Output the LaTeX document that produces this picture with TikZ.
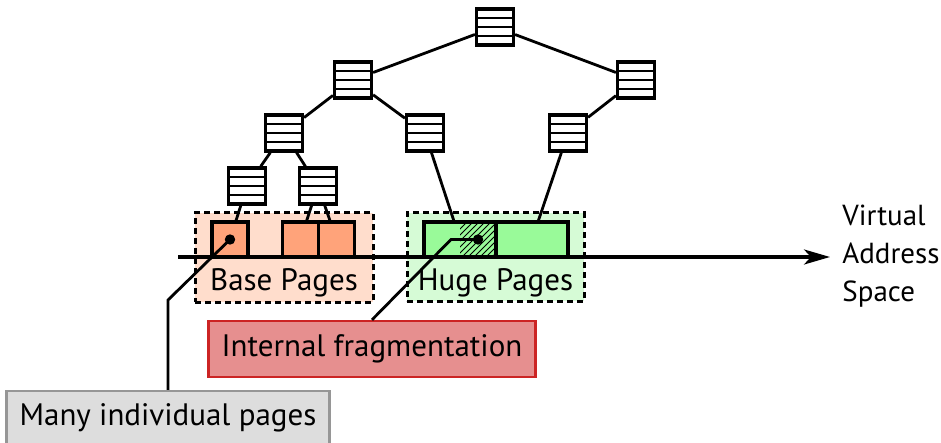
\documentclass[tikz,border=0pt]{standalone}
\usepackage{fontspec}
\setmainfont{PT Sans}
\definecolor{basebg}{RGB}{255, 221, 204}
\definecolor{basepg}{RGB}{255, 163, 122}
\definecolor{hugebg}{RGB}{214, 251, 214}
\definecolor{hugepg}{RGB}{153, 250, 153}
\definecolor{fragfill}{RGB}{230, 143, 143}
\definecolor{fragdraw}{RGB}{204, 36, 36}
\definecolor{notefill}{RGB}{221, 221, 221}
\definecolor{notedraw}{RGB}{150, 150, 150}
\usepackage{tikz}
\usetikzlibrary{arrows.meta}
\usetikzlibrary{backgrounds}
\usetikzlibrary{calc}
\usetikzlibrary{patterns}
\usetikzlibrary{positioning}
\tikzset{
    arrow/.style={-{Stealth[length=13pt, width=7.5pt, inset=3.5pt]}, line width=1.6pt},
    link/.style={line width=1.4pt},
    leader/.style={line width=1.4pt},
    ptable/.style = {
      draw,
      rectangle,
      fill=white,
      line width=1.6pt,
      minimum width=18.5pt,
      minimum height=18pt,
      inner sep=0pt,
      path picture={
        \foreach \row in {0.25,0.5,0.75}
          \draw[line width=1.3pt]
            ($(path picture bounding box.north west)!\row!(path picture bounding box.south west)$) --
            ($(path picture bounding box.north east)!\row!(path picture bounding box.south east)$);
      }
    },
    page/.style = {
      draw,
      rectangle,
      line width=1.6pt,
      minimum height=17.5pt,
      inner sep=0pt,
      outer sep=0pt
    },
    basepage/.style = {page, fill=basepg, minimum width=18pt},
    hugepage/.style = {page, fill=hugepg, minimum width=36pt},
    region/.style = {
      draw,
      rectangle,
      line width=1.5pt,
      dash pattern=on 3pt off 2pt
    },
    notebox/.style = {
      draw=notedraw,
      fill=notefill,
      line width=1.2pt,
      inner xsep=6.5pt,
      minimum height=27pt
    },
    alertbox/.style = {
      draw=fragdraw,
      fill=fragfill,
      line width=1.2pt,
      inner xsep=6.5pt,
      minimum height=28pt
    },
}

\begin{document}
\begin{tikzpicture}[x=0.5pt, y=-0.5pt, font=\fontsize{15.5}{19}\selectfont]
      \useasboundingbox (0,0) rectangle (941,443);

      \node[ptable] (root) at (495,27) {};
      \node[ptable] (upperleft) at (353,80) {};
      \node[ptable] (upperright) at (636,80) {};
      \node[ptable] (midleft) at (284,133) {};
      \node[ptable] (midcenter) at (425,133) {};
      \node[ptable] (midright) at (568,133) {};
      \node[ptable] (lowleft) at (247,186) {};
      \node[ptable] (lowright) at (318,186) {};

      \node[basepage] (basepage1) at (230,239.5) {};
      \node[basepage] (basepage2) at (300.5,239.5) {};
      \node[basepage, right=0pt of basepage2] (basepage3) {};
      \node[hugepage] (hugepage1) at (460,239.5) {};
      \node[hugepage, right=0pt of hugepage1] (hugepage2) {};
      \fill[pattern=north east lines] (hugepage1.north) rectangle (hugepage1.south east);

      \draw[link] (root) -- (upperleft);
      \draw[link] (root) -- (upperright);
      \draw[link] (upperleft) -- (midleft);
      \draw[link] (upperleft) -- (midcenter);
      \draw[link] (upperright) -- (midright);
      \draw[link] (midleft) -- (lowleft);
      \draw[link] (midleft) -- (lowright);
      \draw[link] (lowleft) -- (basepage1);
      \draw[link] (lowright) -- (basepage2);
      \draw[link] (lowright) -- (basepage3);
      \draw[link] (midcenter) -- (hugepage1);
      \draw[link] (midright) -- (hugepage2);

      \begin{pgfonlayer}{background}
        \node[region, fill=basebg, minimum width=89pt, minimum height=44.5pt] (basepages) at (284,257.5) {};
        \node[region, fill=hugebg, minimum width=88.5pt, minimum height=44pt] (hugepages) at (495.5,257) {};
      \end{pgfonlayer}
      \node (baselabel) at (284,282.5) {Base Pages};
      \node (hugelabel) at (495.5,282.5) {Huge Pages};

      \coordinate (axisstart) at (178,257);
      \coordinate (axisend) at (830,257);
      \draw[arrow] (axisstart) -- (axisend);
      \node[anchor=west, align=left, inner sep=0pt, font=\fontsize{14.5}{19}\selectfont] (vaspace) at (842,256) {Virtual\\Address\\Space};

      \node[notebox] (many) at (168,418) {Many individual pages};
      \node[alertbox] (internalfrag) at (372,349) {Internal fragmentation};

      \coordinate (basedot) at (basepage1.center);
      \coordinate (hugedot) at ($(hugepage1.center)!0.5!(hugepage1.east)$);
      \coordinate (basebend) at (168,300);
      \coordinate (hugebend) at (451,239.5);
      \draw[leader] (basedot) -- (basebend) -- (many.north);
      \draw[leader] (hugedot) -- (hugebend) -- (internalfrag.north);
      \fill (basedot) circle (2.6pt);
      \fill (hugedot) circle (2.6pt);
    \end{tikzpicture}
\end{document}
